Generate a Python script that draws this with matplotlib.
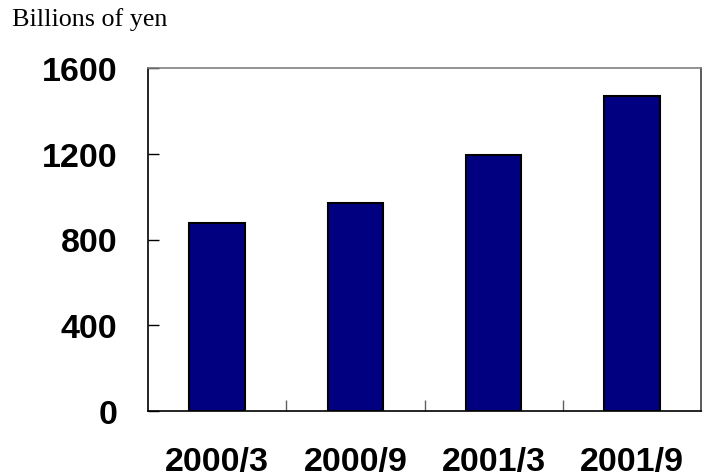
import matplotlib.pyplot as plt

periods = ['2000/3', '2000/9', '2001/3', '2001/9']
amounts = [879, 970, 1194, 1468]   # billions of yen
yticks = [0, 400, 800, 1200, 1600]

fig = plt.figure(figsize=(7.07, 4.77), dpi=100)
ax = fig.add_axes([148/707, 1 - 412/477, 553/707, 343/477])

pos = [i + 0.5 for i in range(len(periods))]
ax.bar(pos, amounts, width=0.4, color='#000080', edgecolor='black', linewidth=1.5)

ax.set_xlim(0, 4)
ax.set_ylim(0, 1600)
ax.set_yticks(yticks)
ax.set_yticklabels([str(v) for v in yticks])

# categories labelled at bar centres, tick marks between them
ax.set_xticks(pos)
ax.set_xticklabels(periods)
ax.set_xticks([1, 2, 3], minor=True)
ax.tick_params(axis='x', which='major', length=0, pad=25)
ax.tick_params(axis='x', which='minor', direction='in', length=8, color='#606060', width=1)
ax.tick_params(axis='y', direction='in', length=8, width=1, pad=22)

for lab in ax.get_xticklabels() + ax.get_yticklabels():
    lab.set_fontfamily('Liberation Sans')
    lab.set_fontweight('bold')
    lab.set_fontsize(24.5)

ax.spines['left'].set_color('black')
ax.spines['bottom'].set_color('black')
ax.spines['top'].set_color('#808080')
ax.spines['right'].set_color('#404040')
for s in ax.spines.values():
    s.set_linewidth(1.2)

fig.text(12/707, 1 - 26/477, 'Billions of yen', family='Liberation Serif',
         fontsize=18.8, va='baseline', ha='left')

fig.savefig('out.png', dpi=100)
